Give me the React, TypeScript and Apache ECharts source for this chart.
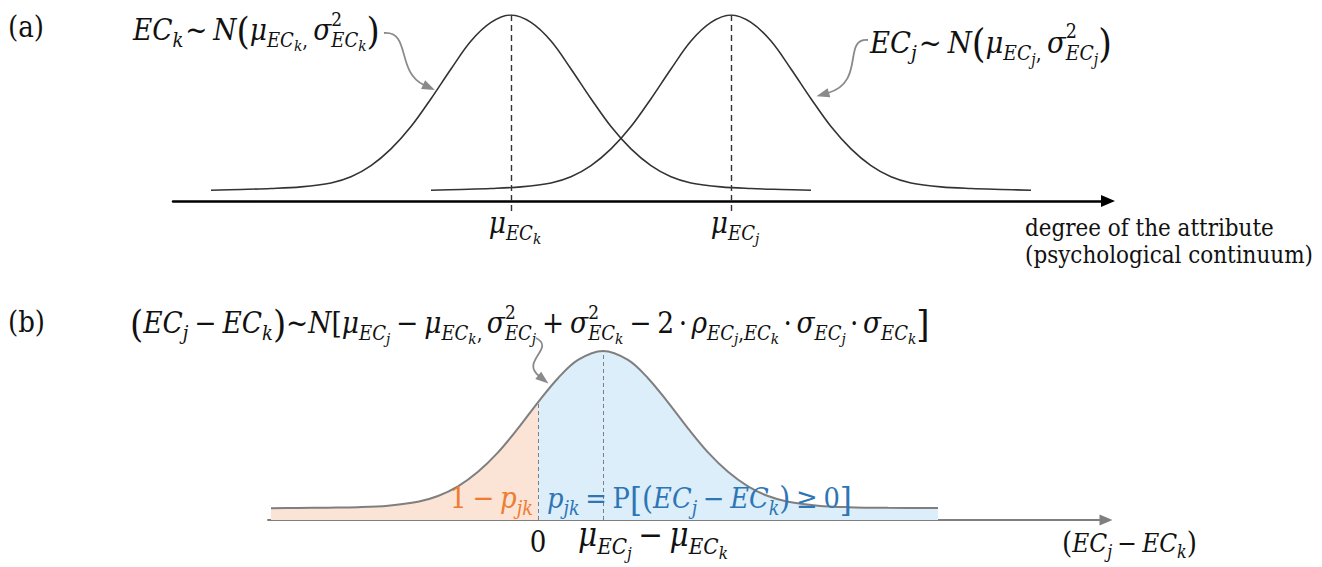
import React, { useEffect, useRef } from 'react';
import * as echarts from 'echarts';

// ---------- data ----------
// panel (a): two normal curves of the same shape, heights relative to the peak, above the axis
const curveOffsetsA = [-30, -27, -24, -21, -18, -16, -14, -12, -10, -8, -6, -4, -2, 0, 2, 4, 6, 8, 10, 12, 14, 16, 18, 21, 24, 27, 30];
const curveHeightsA = [0.058, 0.062, 0.067, 0.076, 0.097, 0.13, 0.19, 0.28, 0.40, 0.55, 0.71, 0.86, 0.96, 1.0, 0.96, 0.86, 0.71, 0.55, 0.40, 0.28, 0.19, 0.13, 0.097, 0.076, 0.067, 0.062, 0.058];
const meanK = 0;
const meanJ = 22;

// panel (b): distribution of the difference
const diffX = [-26.7, -24, -21, -18, -15, -12, -10, -8, -6, -4, -2, 0, 2, 4, 6.5, 9, 11, 13, 15, 17, 19, 21, 23, 25, 28, 31, 35, 40];
const diffY = [0.07, 0.071, 0.073, 0.076, 0.085, 0.108, 0.142, 0.199, 0.285, 0.40, 0.542, 0.696, 0.839, 0.947, 1.0, 0.947, 0.839, 0.696, 0.542, 0.40, 0.285, 0.199, 0.142, 0.108, 0.085, 0.076, 0.072, 0.071];
const zeroX = 0;
const zeroHeight = 0.696;
const meanDiff = 6.5;

// ---------- text layout helpers ----------
const SERIF = '"DejaVu Serif Condensed", "DejaVu Serif", serif';
const K_CENTRAL = 0.346;
const LV_SIZE = [1, 0.68, 0.52];
const LV_DY = [0, 0.24, 0.4];

let measureCtx: CanvasRenderingContext2D | null = null;
function fontStr(size: number, italic: boolean) {
  return `${italic ? 'italic ' : ''}${size}px ${SERIF}`;
}
function textWidth(t: string, size: number, italic: boolean) {
  if (!measureCtx) measureCtx = document.createElement('canvas').getContext('2d');
  measureCtx!.font = fontStr(size, italic);
  return measureCtx!.measureText(t).width;
}

type Piece = { t?: string; lv?: number; it?: boolean; big?: number; gap?: number; sup?: string; sub?: Piece[] };
const I = (t: string, lv = 0): Piece => ({ t, it: true, lv });
const R = (t: string, lv = 0): Piece => ({ t, it: false, lv });
const BG = (t: string, big = 1.28): Piece => ({ t, big });
const G = (gap: number): Piece => ({ gap });
const S = (sup: string, sub: Piece[]): Piece => ({ sup, sub });
const op = (t: string, g = 0.2): Piece[] => [G(g), R(t), G(g)];

function put(out: any[] | null, t: string, x: number, base: number, size: number, italic: boolean, color: string) {
  if (out) {
    out.push({
      type: 'text', x, y: base - K_CENTRAL * size, z: 100, silent: true,
      style: { text: t, font: fontStr(size, italic), fill: color, align: 'left', verticalAlign: 'middle' },
    });
  }
  return textWidth(t, size, italic);
}

function placePiece(out: any[] | null, p: Piece, x: number, base: number, F: number, color: string): number {
  if (p.gap !== undefined) return p.gap * F;
  if (p.sup !== undefined) {
    const w1 = put(out, p.sup, x, base - 0.48 * F, 0.64 * F, false, color);
    let xs = x;
    for (const q of p.sub || []) xs += placePiece(out, q, xs, base, F, color);
    return Math.max(w1, xs - x);
  }
  const lv = p.lv || 0;
  const size = F * LV_SIZE[lv] * (p.big || 1);
  const b = base + LV_DY[lv] * F + (p.big ? (p.big - 1) * 0.45 * F : 0);
  return put(out, p.t || '', x, b, size, !!p.it, color);
}

function lineWidth(pieces: Piece[], F: number) {
  let w = 0;
  for (const p of pieces) w += placePiece(null, p, w, 0, F, '#000');
  return w;
}

function fitSize(pieces: Piece[], target: number) {
  return (100 * target) / lineWidth(pieces, 100);
}

function mathLine(out: any[], pieces: Piece[], x0: number, base: number, F: number, color: string, anchor: 'left' | 'center' = 'left') {
  let x = anchor === 'center' ? x0 - lineWidth(pieces, F) / 2 : x0;
  for (const p of pieces) x += placePiece(out, p, x, base, F, color);
}

function curvedArrow(out: any[], p0: number[], c1: number[], c2: number[], e: number[], color: string) {
  const L = 12, W = 9.5;
  out.push({
    type: 'bezierCurve', z: 100, silent: true,
    shape: { x1: p0[0], y1: p0[1], cpx1: c1[0], cpy1: c1[1], cpx2: c2[0], cpy2: c2[1], x2: e[0], y2: e[1] },
    style: { stroke: color, lineWidth: 1.8, fill: 'none' },
  });
  const dx = e[0] - c2[0], dy = e[1] - c2[1];
  const n = Math.hypot(dx, dy);
  const ux = dx / n, uy = dy / n, px = -uy, py = ux;
  const bx = e[0] - ux, by = e[1] - uy;
  out.push({
    type: 'polygon', z: 100, silent: true,
    shape: { points: [[e[0] + ux * L, e[1] + uy * L], [bx + px * W / 2, by + py * W / 2], [bx - px * W / 2, by - py * W / 2]] },
    style: { fill: color },
  });
}

const ECk = [I('EC', 1), I('k', 2)];
const ECj = [I('EC', 1), I('j', 2)];

export default function App() {
  const ref = useRef<HTMLDivElement>(null);
  useEffect(() => {
    if (!ref.current) return;
    const chart = echarts.init(ref.current, null, { renderer: 'svg' });

    const curveA = (mu: number, name: string) => ({
      type: 'line', name, xAxisIndex: 0, yAxisIndex: 0, silent: true, z: 3,
      data: curveOffsetsA.map((d, i) => [mu + d, curveHeightsA[i]]),
      smooth: 0.35, symbol: 'none',
      lineStyle: { color: '#333', width: 1.6 },
      markLine: {
        silent: true, symbol: ['none', 'none'], label: { show: false },
        lineStyle: { color: '#333', width: 1.4, type: [6, 4] },
        data: [[{ coord: [mu, 1] }, { coord: [mu, -0.06] }]],
      },
    });

    const diffPts = diffX.map((x, i) => [x, diffY[i]]);
    const left = diffPts.filter((p) => p[0] <= zeroX);
    const right = diffPts.filter((p) => p[0] >= zeroX);

    chart.setOption({
      animation: false,
      backgroundColor: '#ffffff',
      grid: [
        { left: 173, width: 935, top: 15, height: 204.6 },
        { left: 268, width: 838, top: 351, height: 169 },
      ],
      xAxis: [
        {
          gridIndex: 0, type: 'value', min: -33.8, max: 59.7,
          axisLine: { show: true, onZero: true, symbol: ['none', 'triangle'], symbolSize: [12, 14], lineStyle: { color: '#000', width: 2.5 } },
          axisTick: { show: false }, axisLabel: { show: false }, splitLine: { show: false },
        },
        {
          gridIndex: 1, type: 'value', min: -27, max: 56.8,
          axisLine: { show: true, onZero: true, symbol: ['none', 'triangle'], symbolSize: [11, 13], lineStyle: { color: '#7f7f7f', width: 2 } },
          axisTick: { show: false }, axisLabel: { show: false }, splitLine: { show: false },
        },
      ],
      yAxis: [
        { gridIndex: 0, type: 'value', min: -0.1, max: 1, show: false },
        { gridIndex: 1, type: 'value', min: 0, max: 1, show: false },
      ],
      series: [
        curveA(meanK, 'EC_k'),
        curveA(meanJ, 'EC_j'),
        {
          type: 'line', name: '1-p', xAxisIndex: 1, yAxisIndex: 1, silent: true, z: 1,
          data: left, smooth: 0.35, symbol: 'none',
          lineStyle: { width: 0, opacity: 0 }, areaStyle: { color: '#fbe3d6', opacity: 1 },
        },
        {
          type: 'line', name: 'p', xAxisIndex: 1, yAxisIndex: 1, silent: true, z: 1,
          data: right, smooth: 0.35, symbol: 'none',
          lineStyle: { width: 0, opacity: 0 }, areaStyle: { color: '#dbeef9', opacity: 1 },
        },
        {
          type: 'line', name: 'diff', xAxisIndex: 1, yAxisIndex: 1, silent: true, z: 3,
          data: diffPts, smooth: 0.35, symbol: 'none',
          lineStyle: { color: '#7f7f7f', width: 2 },
          markLine: {
            silent: true, symbol: ['none', 'none'], label: { show: false },
            lineStyle: { color: '#7f7f7f', width: 1, type: [4, 3] },
            data: [
              [{ coord: [zeroX, 0] }, { coord: [zeroX, zeroHeight] }],
              [{ coord: [meanDiff, 0] }, { coord: [meanDiff, 1] }],
            ],
          },
        },
      ],
    });

    const pK = chart.convertToPixel({ gridIndex: 0 }, [meanK, 0]) as number[];
    const pJ = chart.convertToPixel({ gridIndex: 0 }, [meanJ, 0]) as number[];
    const p0 = chart.convertToPixel({ gridIndex: 1 }, [zeroX, 0]) as number[];

    const g: any[] = [];
    const black = '#111111';
    const orange = '#ed7d31';
    const blue = '#2e75b6';
    const arrowGray = '#8a8a8a';

    // panel letters
    const pa = [R('(a)')];
    mathLine(g, pa, 8, 37, fitSize(pa, 36), black);
    const pb = [R('(b)')];
    mathLine(g, pb, 8, 332, fitSize(pb, 37), black);

    // formula A1
    const a1 = [I('EC'), I('k', 1), G(0.06), R('~'), G(0.2), I('N'), BG('('), I('μ'), ...ECk, R(',', 1), G(0.18), I('σ'), S('2', ECk), BG(')')];
    const Fa = fitSize(a1, 247);
    mathLine(g, a1, 133, 40, Fa, black);
    // formula A2
    const a2 = [I('EC'), I('j', 1), G(0.06), R('~'), G(0.2), I('N'), BG('('), I('μ'), ...ECj, R(',', 1), G(0.18), I('σ'), S('2', ECj), BG(')')];
    mathLine(g, a2, 870, 53, fitSize(a2, 242), black);

    // mean labels
    mathLine(g, [I('μ'), ...ECk], pK[0] + 4, 233, Fa, black, 'center');
    mathLine(g, [I('μ'), ...ECj], pJ[0] + 4, 233, Fa, black, 'center');

    // axis title (a)
    const t1 = [R('degree of the attribute')];
    const t2 = [R('(psychological continuum)')];
    const Ft = Math.min(fitSize(t1, 268), fitSize(t2, 288));
    mathLine(g, t1, 1025, 236, Ft, black);
    mathLine(g, t2, 1025, 263, Ft, black);

    // formula B
    const bf: Piece[] = [
      BG('('), I('EC'), I('j', 1), ...op('−'), I('EC'), I('k', 1), BG(')'), R('~'), I('N'), R('['),
      I('μ'), ...ECj, ...op('−'), I('μ'), ...ECk, R(',', 1), G(0.15),
      I('σ'), S('2', ECj), ...op('+'), I('σ'), S('2', ECk), ...op('−'), R('2'), ...op('·', 0.15),
      I('ρ'), ...ECj, R(',', 1), ...ECk, ...op('·', 0.15), I('σ'), ...ECj, ...op('·', 0.15), I('σ'), ...ECk, BG(']'),
    ];
    mathLine(g, bf, 130, 333, fitSize(bf, 800), black);

    // panel (b) labels
    const ol = [R('1'), ...op('−'), I('p'), I('jk', 1)];
    const Fo = fitSize(ol, 83);
    mathLine(g, ol, 450, 508, Fo, orange);
    const bl = [I('p'), I('jk', 1), ...op('='), R('P'), BG('[', 1.2), BG('(', 1.1), I('EC'), I('j', 1), ...op('−'), I('EC'), I('k', 1), BG(')', 1.1), ...op('≥'), R('0'), BG(']', 1.2)];
    mathLine(g, bl, 547, 508, fitSize(bl, 305), blue);

    mathLine(g, [R('0')], p0[0], 552, Fo, black, 'center');
    const md = [I('μ'), ...ECj, ...op('−'), I('μ'), ...ECk];
    mathLine(g, md, 578, 546, fitSize(md, 150), black);
    const dl = [BG('(', 1.12), I('EC'), I('j', 1), ...op('−'), I('EC'), I('k', 1), BG(')', 1.12)];
    mathLine(g, dl, 1062, 552, fitSize(dl, 135), black);

    // curved pointer arrows
    curvedArrow(g, [384, 33], [411, 31], [396, 72], [424, 85], arrowGray);
    curvedArrow(g, [868, 40], [842, 38], [866, 82], [828, 93], arrowGray);
    curvedArrow(g, [536, 338], [556, 348], [520, 361], [539, 376], arrowGray);

    chart.setOption({ graphic: { elements: g } });

    return () => chart.dispose();
  }, []);

  return <div ref={ref} style={{ position: 'absolute', left: 0, top: 0, width: 1322, height: 567, background: '#fff' }} />;
}
